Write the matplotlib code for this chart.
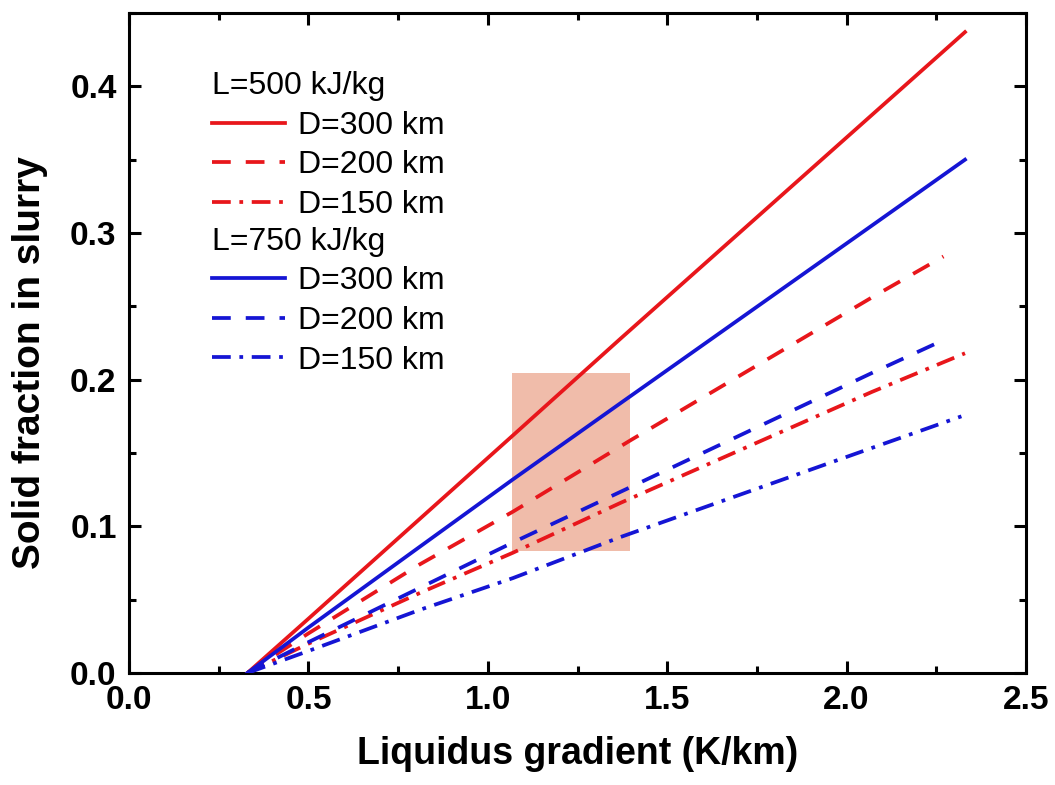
import matplotlib
matplotlib.use("Agg")
import matplotlib.pyplot as plt
from matplotlib.patches import Rectangle
from matplotlib.lines import Line2D
from matplotlib.ticker import MultipleLocator

plt.rcParams['font.family'] = ['Liberation Sans', 'DejaVu Sans']

# liquidus gradient (K/km) vs solid fraction, L=500 kJ/kg
x_500_300 = [0.33, 0.50, 1.07, 1.37, 2.33]
y_500_300 = [0.0, 0.037, 0.162, 0.228, 0.437]
x_500_200 = [0.33, 0.50, 0.81, 1.07, 1.40, 2.07, 2.27]
y_500_200 = [0.0, 0.027, 0.074, 0.110, 0.159, 0.256, 0.284]
x_500_150 = [0.33, 0.50, 0.81, 1.07, 1.37, 2.07, 2.33]
y_500_150 = [0.0, 0.020, 0.0545, 0.082, 0.116, 0.1916, 0.218]

# L=750 kJ/kg
x_750_300 = [0.33, 0.50, 0.81, 1.07, 1.37, 2.07, 2.33]
y_750_300 = [0.0, 0.031, 0.086, 0.132, 0.184, 0.305, 0.350]
x_750_200 = [0.33, 0.50, 0.81, 1.07, 1.40, 2.07, 2.27]
y_750_200 = [0.0, 0.021, 0.058, 0.089, 0.127, 0.2045, 0.227]
x_750_150 = [0.33, 0.50, 0.81, 1.07, 1.37, 2.07, 2.32]
y_750_150 = [0.0, 0.015, 0.043, 0.0647, 0.0927, 0.1534, 0.175]

# shaded range
box_x = [1.067, 1.397]
box_y = [0.083, 0.2045]

red = '#e8161b'
blue = '#1515d4'
dashed = (0, (5, 4))
dashdot = (0, (5, 2.3, 1, 2.3))
lw = 2.7

fig = plt.figure(figsize=(10.55, 7.85), dpi=100)
ax = fig.add_axes([0.1223, 0.1427, 0.8502, 0.8407])

ax.add_patch(Rectangle((box_x[0], box_y[0]), box_x[1] - box_x[0], box_y[1] - box_y[0],
                       facecolor='#f0bcaa', edgecolor='none', zorder=1))

ax.plot(x_500_300, y_500_300, color=red, lw=lw, zorder=3)
ax.plot(x_500_200, y_500_200, color=red, lw=lw, ls=dashed, zorder=3)
ax.plot(x_500_150, y_500_150, color=red, lw=lw, ls=dashdot, zorder=3)
ax.plot(x_750_300, y_750_300, color=blue, lw=lw, zorder=3)
ax.plot(x_750_200, y_750_200, color=blue, lw=lw, ls=dashed, zorder=3)
ax.plot(x_750_150, y_750_150, color=blue, lw=lw, ls=dashdot, zorder=3)

ax.set_xlim(0, 2.5)
ax.set_ylim(0, 0.45)
ax.xaxis.set_minor_locator(MultipleLocator(0.25))
ax.yaxis.set_minor_locator(MultipleLocator(0.05))
ax.set_xticks([0, 0.5, 1.0, 1.5, 2.0, 2.5])
ax.set_xticklabels(['0.0', '0.5', '1.0', '1.5', '2.0', '2.5'])
ax.set_yticks([0, 0.1, 0.2, 0.3, 0.4])
ax.set_yticklabels(['0.0', '0.1', '0.2', '0.3', '0.4'])

for s in ax.spines.values():
    s.set_linewidth(2.2)
ax.tick_params(which='both', direction='in', top=True, right=True, width=2.2)
ax.tick_params(which='major', length=8.6, pad=9)
ax.tick_params(which='minor', length=5)
for lab in ax.get_xticklabels() + ax.get_yticklabels():
    lab.set_fontsize(24)
    lab.set_fontweight('bold')

ax.set_xlabel('Liquidus gradient (K/km)', fontsize=27, fontweight='bold', labelpad=14)
ax.set_ylabel('Solid fraction in slurry', fontsize=28, fontweight='bold')
ax.yaxis.set_label_coords(-0.090, 0.47)


def series_legend(title, color, top):
    handles = [Line2D([], [], color=color, lw=lw),
               Line2D([], [], color=color, lw=lw, ls=dashed),
               Line2D([], [], color=color, lw=lw, ls=dashdot)]
    labels = ['D=300 km', 'D=200 km', 'D=150 km']
    leg = ax.legend(handles, labels, title=title, loc='upper left',
                    bbox_to_anchor=(0.0925, top), frameon=False, fontsize=23,
                    title_fontsize=23, handlelength=2.3, handletextpad=0.4,
                    labelspacing=0.3, borderpad=0, borderaxespad=0,
                    alignment='left')
    return leg


leg1 = series_legend('L=500 kJ/kg', red, 0.912)
ax.add_artist(leg1)
series_legend('L=750 kJ/kg', blue, 0.676)

fig.savefig('out.png', dpi=100)
